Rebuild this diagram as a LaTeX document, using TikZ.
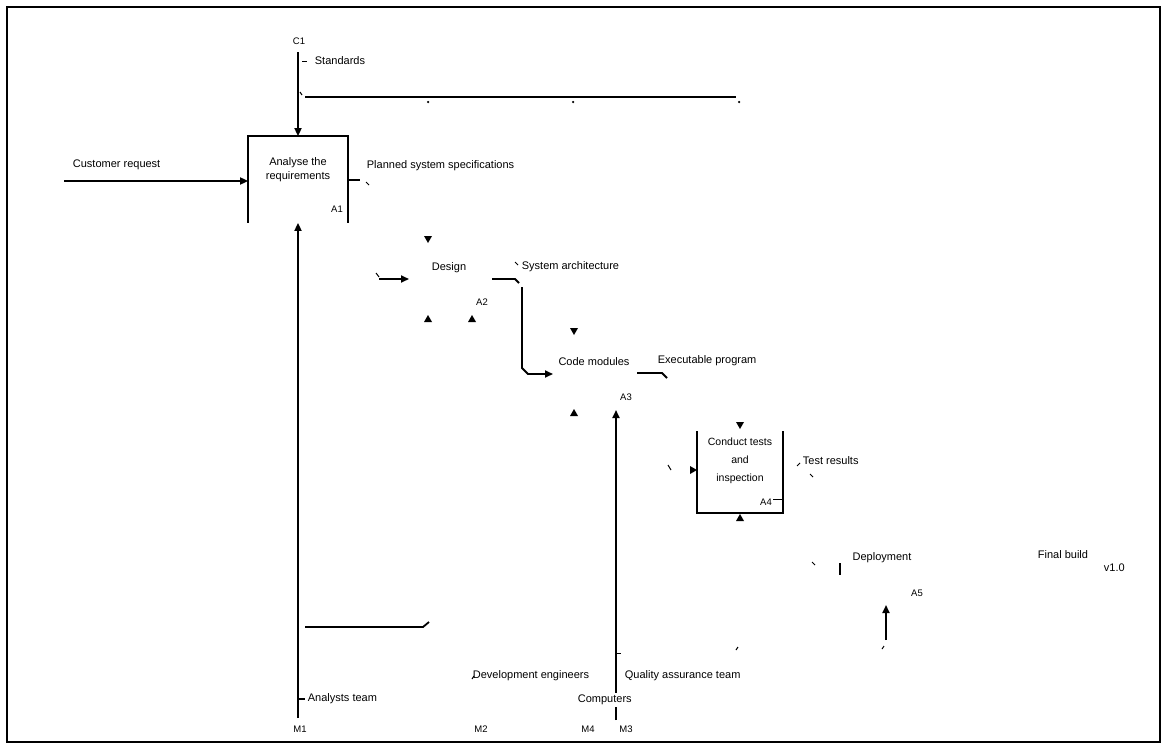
\documentclass[tikz,border=0pt]{standalone}
\usepackage{fontspec}
\setmainfont{Liberation Sans}
\usetikzlibrary{arrows.meta}
\begin{document}
\begin{tikzpicture}[x=1pt,y=-1pt,line width=1.8pt,
  arr/.style={-{Triangle[length=8pt,width=7pt]}},
  thin mark/.style={line width=1pt},
  lbl/.style={font=\fontsize{11}{12}\selectfont,inner sep=0pt,anchor=west},
  ctr/.style={font=\fontsize{11}{14}\selectfont,inner sep=0pt,align=center},
  idx/.style={font=\fontsize{9.5}{10}\selectfont,inner sep=0pt},
  tipd/.pic={\fill (-4,-4) -- (4,-4) -- (0,3) -- cycle;},
  tipu/.pic={\fill (-4,4) -- (4,4) -- (0,-3) -- cycle;},
  tipr/.pic={\fill (-4,-4) -- (-4,4) -- (3,0) -- cycle;},
  dotm/.style={circle,fill,inner sep=0pt,minimum size=2.5pt}]
\useasboundingbox (0,0) rectangle (1164,744);
\draw[line width=2pt] (7,7) rectangle (1160,742);

% ---------- A1 ----------
\node[minimum width=98pt,minimum height=85pt,inner sep=0pt] (A1) at (298,179.5) {};
\draw (A1.south west) -- (A1.north west) -- (A1.north east) -- (A1.south east);
\node[ctr] (A1t) at (298,170) {Analyse the\\requirements};
\node[idx] (A1n) at (337,209) {A1};

% control C1
\node[idx] (C1) at (299,41) {C1};
\coordinate (c1s) at (298,52);
\draw[arr] (c1s) -- (A1.north);
\coordinate (c1d) at (302,61);
\draw[thin mark] (c1d) -- ++(5,0);
\node[lbl] (C1l) at (314,61) {Standards};
\coordinate (hA) at (305,97);
\coordinate (hB) at (736,97);
\draw[thin mark] (300,92) -- (302,95);
\draw (hA) -- (hB);
\node[dotm] (d1) at (428,102) {};
\node[dotm] (d2) at (573,102) {};
\node[dotm] (d3) at (739,102) {};

% input I1
\coordinate (in1) at (64,181);
\draw[arr] (in1) -- (A1.west |- in1);
\node[lbl] (I1l) at (72,165) {Customer request};

% output A1
\coordinate (o1) at (360,180);
\draw (A1.east |- o1) -- (o1);
\draw[thin mark] (366,182) -- (369,185);
\node[lbl] (O1l) at (366,166) {Planned system specifications};

% mechanism M1
\coordinate (m1) at (298,718);
\draw[arr] (m1) -- (A1.south);
\node[idx] (M1) at (300,729) {M1};
\draw (298,699) -- (305,699);
\node[lbl] (M1l) at (307,699) {Analysts team};
\coordinate (hC) at (305,627);
\coordinate (hD) at (423,627);
\draw (hC) -- (hD) -- ++(6,-5);

% ---------- A2 ----------
\node[ctr] (A2) at (449,268) {Design};
\node[idx] (A2n) at (482,302) {A2};
\pic at (428,240) {tipd};
\pic at (428,318) {tipu};
\pic at (472,318) {tipu};
\draw[thin mark] (376,273) -- (379,277);
\coordinate (i2) at (379,279);
\draw[arr] (i2) -- (409,279);
\coordinate (o2a) at (492,279);
\coordinate (o2b) at (515,279);
\draw (o2a) -- (o2b) -- ++(4,4);
\draw[thin mark] (515,262) -- (518,265);
\node[lbl] (O2l) at (521,267) {System architecture};
\coordinate (v2a) at (522,287);
\coordinate (v2b) at (522,368);
\coordinate (i3) at (553,374);
\draw[arr] (v2a) -- (v2b) -- (528,374) -- (i3);

% ---------- A3 ----------
\node[ctr] (A3) at (594,362) {Code modules};
\node[idx] (A3n) at (626,397) {A3};
\pic at (574,332) {tipd};
\pic at (574,412) {tipu};
\coordinate (m3b) at (616,720);
\coordinate (m3t) at (616,410);
\draw[arr] (m3b) -- (m3t);
\draw[thin mark] (616,653) -- (621,653);
\coordinate (o3a) at (637,373);
\coordinate (o3b) at (662,373);
\draw (o3a) -- (o3b) -- ++(5,5);
\node[lbl] (O3l) at (657,361) {Executable program};

% ---------- A4 ----------
\node[minimum width=84pt,minimum height=80pt,inner sep=0pt] (A4) at (740,472) {};
\draw (A4.north west) -- (A4.south west) -- (A4.south east) -- (A4.north east);
\node[font=\fontsize{10.5}{18}\selectfont,inner sep=0pt,align=center] (A4t) at (740,461) {Conduct tests\\and\\inspection};
\node[idx] (A4n) at (766,502) {A4};
\draw[thin mark] (773,499) -- (A4.east |- 0,499);
\pic at (740,426) {tipd};
\pic at (740,517) {tipu};
\pic at (694,470) {tipr};
\draw[thin mark] (668,465) -- (671,470);
\draw[thin mark] (797,466) -- (800,463);
\draw[thin mark] (810,474) -- (813,477);
\node[lbl] (O4l) at (802,461) {Test results};

% ---------- A5 ----------
\node[ctr] (A5) at (882,558) {Deployment};
\node[idx] (A5n) at (917,593) {A5};
\draw[thin mark] (812,562) -- (815,565);
\draw (840,563) -- (840,575);
\coordinate (m5b) at (886,640);
\coordinate (m5t) at (886,605);
\draw[arr] (m5b) -- (m5t);
\draw[thin mark] (882,649) -- (884,646);

% final output
\node[lbl] (F1) at (1037,555) {Final build};
\node[lbl] (F2) at (1103,568) {v1.0};

% ---------- bottom mechanisms ----------
\node[lbl] (M2l) at (472,676) {Development engineers};
\node[lbl,fill=white,inner ysep=2pt] (M4l) at (577,700) {Computers};
\node[lbl] (M3l) at (624,676) {Quality assurance team};
\draw[thin mark] (472,679) -- (474,676);
\draw[thin mark] (736,650) -- (738,647);
\node[idx] (M2) at (481,729) {M2};
\node[idx] (M4) at (588,729) {M4};
\node[idx] (M3) at (626,729) {M3};
\end{tikzpicture}
\end{document}
